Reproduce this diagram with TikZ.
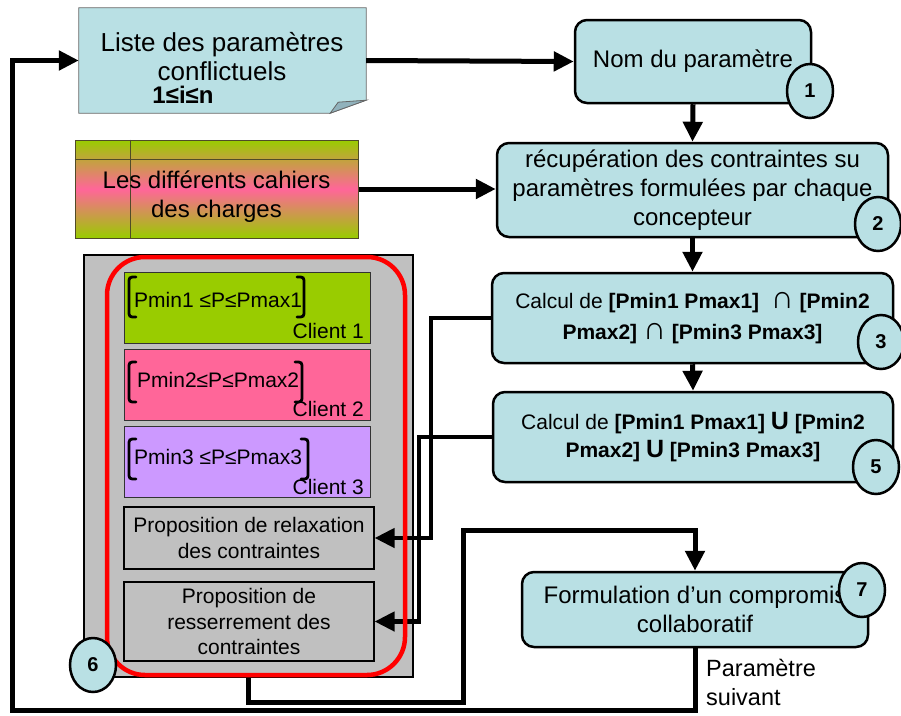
\documentclass[tikz,border=0pt]{standalone}
\usepackage{fontspec}
\setmainfont{Liberation Sans}
\usepackage{tikz}
\usetikzlibrary{shapes.geometric, arrows.meta, positioning, calc}
\definecolor{boxblue}{RGB}{185,224,228}
\definecolor{foldblue}{RGB}{145,178,188}
\definecolor{cligreen}{RGB}{153,204,0}
\definecolor{clipink}{RGB}{255,102,153}
\definecolor{cliviolet}{RGB}{204,153,255}
\definecolor{propgray}{RGB}{192,192,192}
\definecolor{framered}{RGB}{255,0,0}
\definecolor{cahierline}{RGB}{80,75,40}
\newcommand{\bigsym}[1]{{\fontsize{25}{28}\selectfont #1}}
\newcommand{\intersym}{{\fontsize{32}{28}\selectfont ∩}}
\tikzset{
  %% ---- boxes ----
  procbox/.style  = {rectangle, rounded corners=12pt,
                     draw=black, line width=2.5pt,
                     fill=boxblue, align=center, inner sep=0pt,
                     font=\fontsize{24}{29}\selectfont},
  clientbox/.style = {rectangle, draw=black!80, line width=0.8pt,
                     fill=#1, minimum width=246pt, minimum height=71pt},
  clienttxt/.style = {inner sep=0pt, font=\fontsize{21}{24}\selectfont},
  propbox/.style  = {rectangle, draw=black, line width=1.2pt,
                     fill=propgray, minimum width=250pt, align=center,
                     font=\fontsize{21}{25.5}\selectfont},
  numcircle/.style = {ellipse, draw=black, line width=2.5pt,
                     fill=boxblue, minimum width=46pt, minimum height=54pt,
                     inner sep=0pt, font=\fontsize{20}{24}\selectfont\bfseries},
  bracket/.style  = {line width=2.8pt, line cap=round},
  %% ---- arrows ----
  arrow/.style    = {-{Triangle[length=20pt, width=19pt]}, line width=5pt},
}

\begin{document}
\begin{tikzpicture}[x=1pt, y=-1pt]
  \useasboundingbox (0,0) rectangle (901,715);

  %% liste des parametres (folded note)
  \node[minimum width=287pt, minimum height=105pt, inner sep=0pt] (liste) at (222.5,60.5) {};
  \filldraw[fill=boxblue, draw=black!60, line width=0.8pt]
    (liste.north west) -- (liste.north east) -- ([yshift=13pt]liste.south east)
    -- ([xshift=-36pt]liste.south east) -- (liste.south west) -- cycle;
  \filldraw[fill=foldblue, draw=black!60, line width=0.8pt]
    ([xshift=-36pt]liste.south east) -- ([xshift=-28pt, yshift=11pt]liste.south east)
    -- ([yshift=13pt]liste.south east) -- cycle;
  \node[align=center, font=\fontsize{26}{29}\selectfont] (listetxt) at (222,56.5)
    {Liste des paramètres\\conflictuels};
  \node[font=\fontsize{24}{29}\selectfont\bfseries] (indice) at (183,95) {1≤i≤n};

  %% cahiers des charges
  \node[minimum width=283pt, minimum height=98pt, inner sep=0pt,
        draw=cahierline, line width=1pt,
        top color=cligreen, bottom color=cligreen, middle color=clipink] (cahiers) at (216.5,189) {};
  \draw[cahierline, line width=1pt] ([yshift=-20pt]cahiers.north west) -- ([yshift=-20pt]cahiers.north east);
  \draw[cahierline, line width=1pt] ([xshift=56pt]cahiers.north west) -- ([xshift=56pt]cahiers.south west);
  \node[align=center, font=\fontsize{24}{29}\selectfont] (cahierstxt) at (216.5,197)
    {Les différents cahiers\\des charges};

  %% right column
  \node[procbox, minimum width=236pt, minimum height=83pt] (nom) at (693,61.5)
    {Nom du paramètre};
  \node[procbox, minimum width=391pt, minimum height=94pt] (recup) at (692.5,190)
    {récupération des contraintes su\\paramètres formulées par chaque\\concepteur};
  \node[procbox, minimum width=401pt, minimum height=90pt,
        font=\fontsize{21}{31}\selectfont] (inter) at (692.5,318)
    {Calcul de \textbf{[Pmin1 Pmax1]}\ \ \intersym{} \textbf{[Pmin2}\\\textbf{Pmax2]} \intersym{} \textbf{[Pmin3 Pmax3]}};
  \node[procbox, minimum width=400pt, minimum height=90pt,
        font=\fontsize{21}{28}\selectfont] (union) at (693,437)
    {Calcul de \textbf{[Pmin1 Pmax1] \bigsym{U} [Pmin2}\\\textbf{Pmax2] \bigsym{U} [Pmin3 Pmax3]}};
  \node[procbox, minimum width=346pt, minimum height=75pt] (formu) at (695,609.5)
    {Formulation d’un compromis\\collaboratif};

  %% clients block
  \node[rectangle, draw=black, line width=2pt, fill=propgray,
        minimum width=329pt, minimum height=422pt] (gris) at (248.5,466) {};

  \node[clientbox=cligreen]  (client1) at (247,307.5) {};
  \node[clientbox=clipink]   (client2) at (247,385) {};
  \node[clientbox=cliviolet] (client3) at (247,462) {};

  \node[clienttxt, anchor=west] (borne1) at (134,300) {Pmin1 ≤P≤Pmax1};
  \node[clienttxt, anchor=west] (borne2) at (137,380) {Pmin2≤P≤Pmax2};
  \node[clienttxt, anchor=west] (borne3) at (134,457) {Pmin3 ≤P≤Pmax3};
  \node[clienttxt, anchor=east] (nomc1) at (364,331) {Client 1};
  \node[clienttxt, anchor=east] (nomc2) at (364,409) {Client 2};
  \node[clienttxt, anchor=east] (nomc3) at (364,487) {Client 3};

  \foreach \yh/\xr in {277/304, 362/302, 439/308} {
    \draw[bracket] (136,\yh) .. controls (129,\yh) .. (129,\yh+7) -- (129,\yh+33)
      .. controls (129,\yh+40) .. (136,\yh+40);
    \draw[bracket] (\xr-7,\yh) .. controls (\xr,\yh) .. (\xr,\yh+7) -- (\xr,\yh+33)
      .. controls (\xr,\yh+40) .. (\xr-7,\yh+40);
  }

  \node[propbox, minimum height=62pt] (relax) at (249,538)
    {Proposition de relaxation\\des contraintes};
  \node[propbox, minimum height=79pt] (resser) at (249,621.5)
    {Proposition de\\resserrement des\\contraintes};

  %% connectors
  \coordinate (coudeA) at (463,702);
  \coordinate (coudeB) at (463,530);
  \coordinate (coudeC) at (12,710);

  \draw[arrow] (liste.east) -- (nom.west);
  \draw[arrow] (cahiers.east) -- (cahiers.east -| recup.west);
  \draw[arrow] (nom.south) -- (recup.north);
  \draw[arrow] (recup.south) -- (inter.north);
  \draw[arrow] (inter.south) -- (union.north);
  \draw[arrow, line width=4.5pt] (inter.west) -- ++(-60,0) |- (relax.east);
  \draw[arrow, line width=4.5pt] (union.west) -- ++(-73,0) |- (resser.east);
  \draw[arrow] (gris.south) |- (coudeA) -- (coudeB) -| (formu.north);
  \draw[arrow] (formu.south) |- (coudeC) |- (liste.west);

  \node[rectangle, rounded corners=38pt, draw=framered, line width=4.5pt,
        minimum width=298pt, minimum height=418pt] (cadre) at (256,466) {};

  %% step numbers
  \node[numcircle] (n1) at (810,91) {1};
  \node[numcircle] (n2) at (878,224) {2};
  \node[numcircle] (n3) at (881,342) {3};
  \node[numcircle] (n5) at (876,467) {5};
  \node[numcircle] (n6) at (93,665) {6};
  \node[numcircle] (n7) at (862,590) {7};

  \node[anchor=west, align=left, inner sep=0pt, font=\fontsize{23.5}{29}\selectfont]
    (suivant) at (706,682) {Paramètre\\suivant};

\end{tikzpicture}
\end{document}
